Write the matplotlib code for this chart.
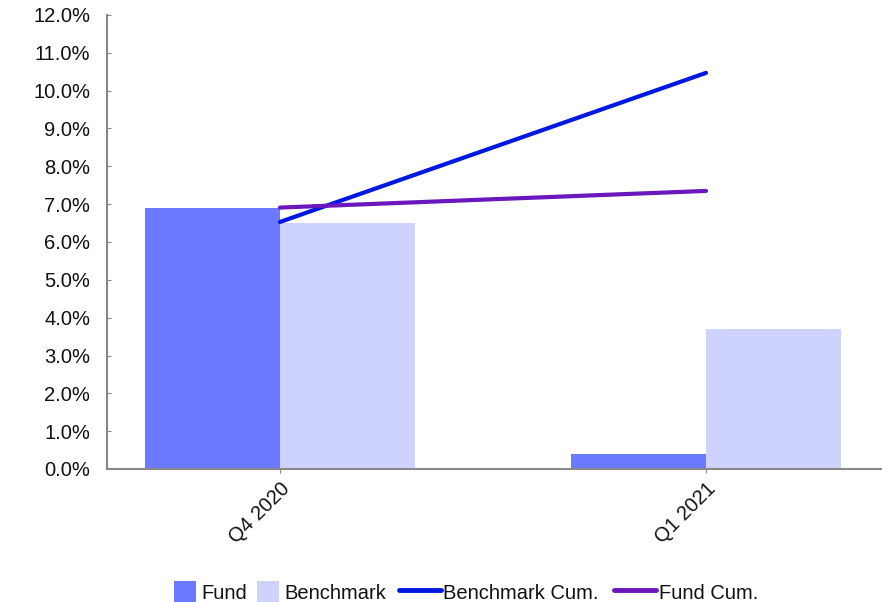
import matplotlib
matplotlib.use("Agg")
import matplotlib.pyplot as plt
from matplotlib.patches import Rectangle
from matplotlib.lines import Line2D
import numpy as np

categories = ["Q4 2020", "Q1 2021"]
fund = [6.90, 0.40]
benchmark = [6.50, 3.70]
benchmark_cum = [6.53, 10.47]
fund_cum = [6.91, 7.35]
yticks = [0, 1, 2, 3, 4, 5, 6, 7, 8, 9, 10, 11, 12]

c_fund = "#6B7BFF"
c_bench = "#CDD3FE"
c_bcum = "#0018E0"
c_fcum = "#6A17BE"

plt.rcParams['font.family'] = ['Liberation Sans', 'DejaVu Sans']

W, H = 882, 602
fig = plt.figure(figsize=(W/100, H/100), dpi=100)
ax = fig.add_axes([107/W, (H-469)/H, 1 - 107/W, (469-15)/H])

x = np.arange(len(categories))
w = 0.317
ax.bar(x - w/2, fund, width=w, color=c_fund, label="Fund", zorder=2)
ax.bar(x + w/2, benchmark, width=w, color=c_bench, label="Benchmark", zorder=2)
ax.plot(x, benchmark_cum, color=c_bcum, lw=3, solid_capstyle='round', label="Benchmark Cum.", zorder=3)
ax.plot(x, fund_cum, color=c_fcum, lw=3, solid_capstyle='round', label="Fund Cum.", zorder=3)

ax.set_xlim((107-280)/426, (882-280)/426)
ax.set_ylim(0, 12)
ax.set_yticks(yticks)
ax.set_yticklabels([f"{v:.1f}%" for v in yticks], fontsize=14.5, color="#111111")
ax.set_xticks(x)
ax.set_xticklabels(categories, rotation=45, ha='right', rotation_mode='anchor', fontsize=14.5, color="#111111")

for s in ['top', 'right']:
    ax.spines[s].set_visible(False)
for s in ['left', 'bottom']:
    ax.spines[s].set_color('#888888')
    ax.spines[s].set_linewidth(1.5)
ax.tick_params(axis='y', direction='in', length=3, color='#888888', pad=12)
ax.tick_params(axis='x', direction='out', length=3, color='#888888', pad=4)

# legend, placed item by item (pixel positions, y measured from top)
def fx(px):
    return px / W

def fy(py):
    return (H - py) / H

legend_items = [
    ("patch", c_fund, "Fund", 174, 201),
    ("patch", c_bench, "Benchmark", 257, 284),
    ("line", c_bcum, "Benchmark Cum.", 399, 443),
    ("line", c_fcum, "Fund Cum.", 614, 659),
]
for kind, col, lab, hx, tx in legend_items:
    if kind == "patch":
        fig.patches.append(Rectangle((fx(hx), fy(602)), 22/W, 21/H, facecolor=col, edgecolor='none',
                                     transform=fig.transFigure, figure=fig))
    else:
        fig.lines.append(Line2D([fx(hx), fx(hx + 42)], [fy(590), fy(590)], color=col, lw=3.5,
                                solid_capstyle='round', transform=fig.transFigure, figure=fig))
    fig.text(fx(tx), fy(599), lab, fontsize=14.5, color="#111111", ha='left', va='baseline')

fig.savefig("out.png", dpi=100)
